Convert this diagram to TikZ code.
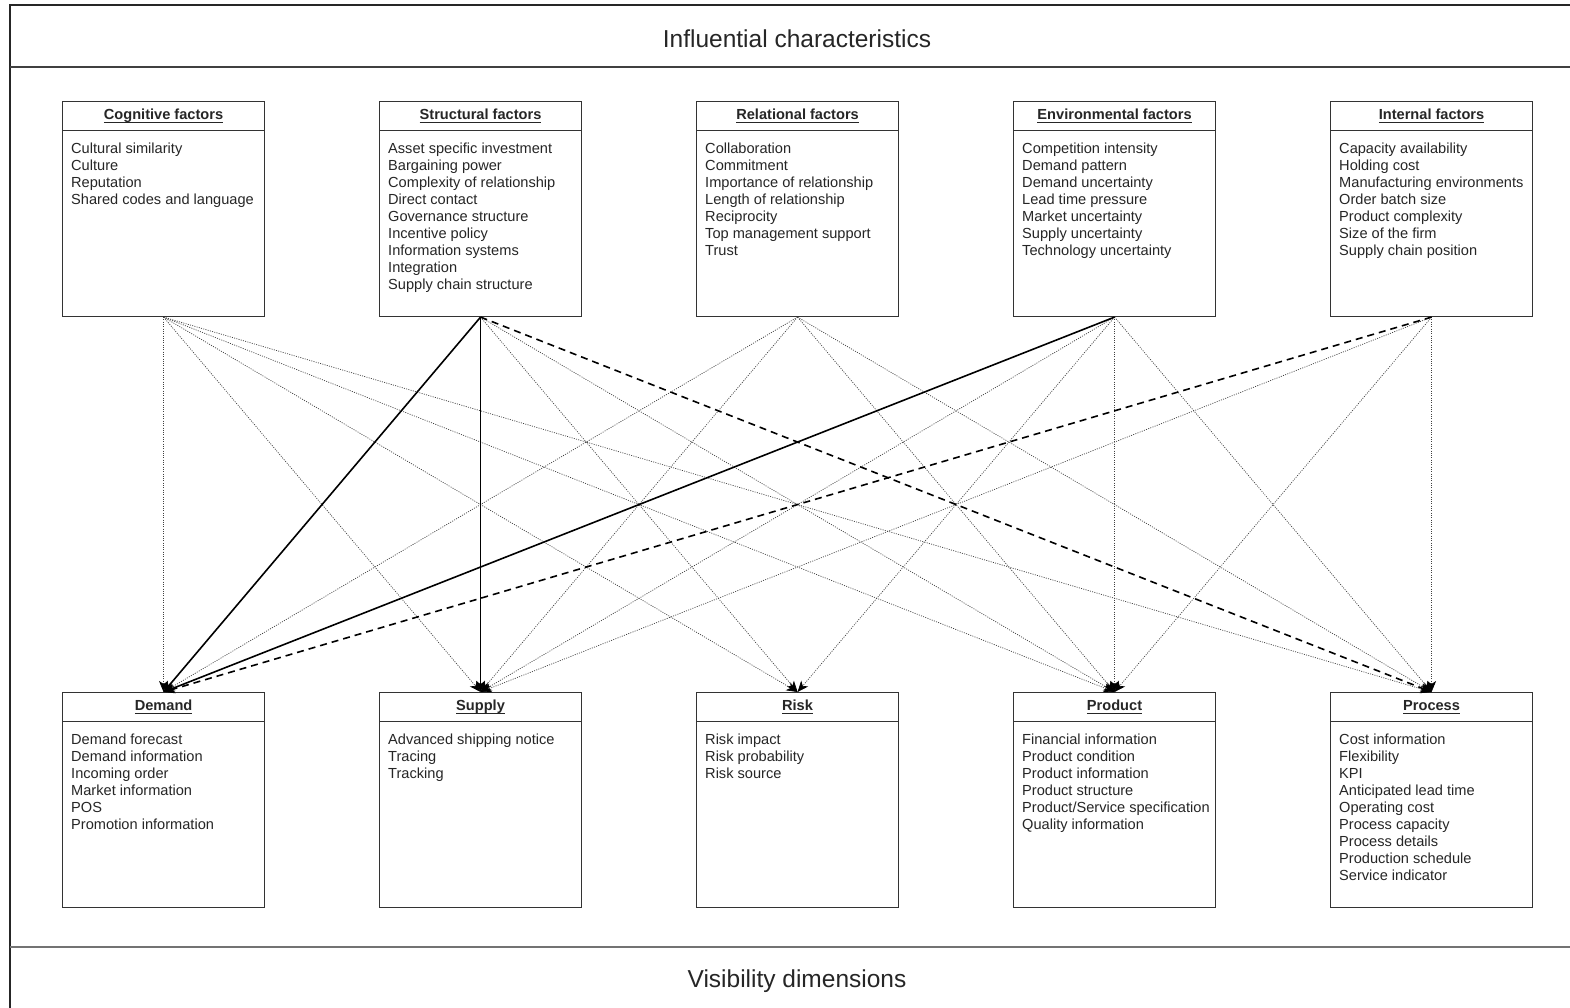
\documentclass[tikz,border=0pt]{standalone}
\usepackage{fontspec}
\setmainfont{Liberation Sans}
\usetikzlibrary{arrows.meta}

% Underline at a fixed depth below the baseline, whatever the letters
\newcommand{\hdrline}[1]{\setbox0\hbox{#1}\rlap{\vrule width\wd0 height -1.8pt depth 2.8pt}\box0}

% One factor box: a header cell with an underlined bold title and a body cell with a list
\newcommand{\factorbox}[5]{%
  \node[hdr] (#1H) at (#2,#3) {\hdrline{#4}};
  \node[bodybox] (#1) at (#2,#3+29) {};
  \node[items] at ([xshift=9pt,yshift=-12.5pt]#1.north west) {#5};
}

\begin{document}
\begin{tikzpicture}[x=1pt,y=-1pt,
  hdr/.style={draw=black!80, line width=1.1pt, minimum width=202pt, minimum height=29pt,
    text height=10.5pt, text depth=3pt,
    inner sep=0pt, anchor=north west, font=\fontsize{14.6}{17}\selectfont\bfseries, text=black!85},
  bodybox/.style={draw=black!80, line width=1.1pt, minimum width=202pt, minimum height=186pt,
    inner sep=0pt, anchor=north west},
  items/.style={anchor=north west, align=left, inner sep=0pt,
    font=\fontsize{14.6}{17}\selectfont, text=black!85},
  section/.style={font=\fontsize{24.5}{28}\selectfont, text=black!85},
  link/.style={-{Stealth[length=11pt,width=9pt,inset=3pt,color=black]}},
  weak/.style={link, draw=black!75, line width=0.7pt, dash pattern=on 1pt off 1.3pt},
  strong/.style={link, line width=1.6pt},
  broken/.style={link, line width=1.6pt, dash pattern=on 7pt off 5pt},
]
\useasboundingbox (0,0) rectangle (1570,1008);
\fill[white] (0,0) rectangle (1570,1008);

% outer frame and the two section bands
\draw[line width=1.2pt, black!85] (10,1008) -- (10,5) -- (1570,5);
\draw[line width=1.1pt, black!75] (10,67) -- (1570,67);
\draw[line width=2pt, black!55] (10,947) -- (1570,947);
\node[section] (influential) at (797,39) {Influential characteristics};
\node[section] (visibility) at (797,981) {Visibility dimensions};

% influential characteristics
\factorbox{cog}{62}{101}{Cognitive factors}{Cultural similarity\\Culture\\Reputation\\Shared codes and language}
\factorbox{str}{379}{101}{Structural factors}{Asset specific investment\\Bargaining power\\Complexity of relationship\\Direct contact\\Governance structure\\Incentive policy\\Information systems\\Integration\\Supply chain structure}
\factorbox{rel}{696}{101}{Relational factors}{Collaboration\\Commitment\\Importance of relationship\\Length of relationship\\Reciprocity\\Top management support\\Trust}
\factorbox{env}{1013}{101}{Environmental factors}{Competition intensity\\Demand pattern\\Demand uncertainty\\Lead time pressure\\Market uncertainty\\Supply uncertainty\\Technology uncertainty}
\factorbox{int}{1330}{101}{Internal factors}{Capacity availability\\Holding cost\\Manufacturing environments\\Order batch size\\Product complexity\\Size of the firm\\Supply chain position}

% visibility dimensions
\factorbox{dem}{62}{692}{Demand}{Demand forecast\\Demand information\\Incoming order\\Market information\\POS\\Promotion information}
\factorbox{sup}{379}{692}{Supply}{Advanced shipping notice\\Tracing\\Tracking}
\factorbox{risk}{696}{692}{Risk}{Risk impact\\Risk probability\\Risk source}
\factorbox{prod}{1013}{692}{Product}{Financial information\\Product condition\\Product information\\Product structure\\Product/Service specification\\Quality information}
\factorbox{proc}{1330}{692}{Process}{Cost information\\Flexibility\\KPI\\Anticipated lead time\\Operating cost\\Process capacity\\Process details\\Production schedule\\Service indicator}

% links from characteristics to dimensions
\draw[weak] (cog.south) -- (demH.north);
\draw[weak] (cog.south) -- (supH.north);
\draw[weak] (cog.south) -- (riskH.north);
\draw[weak] (cog.south) -- (prodH.north);
\draw[weak] (cog.south) -- (procH.north);

\draw[weak] (str.south) -- (riskH.north);
\draw[weak] (str.south) -- (prodH.north);

\draw[weak] (rel.south) -- (demH.north);
\draw[weak] (rel.south) -- (supH.north);
\draw[weak] (rel.south) -- (prodH.north);
\draw[weak] (rel.south) -- (procH.north);

\draw[weak] (env.south) -- (supH.north);
\draw[weak] (env.south) -- (riskH.north);
\draw[weak] (env.south) -- (prodH.north);
\draw[weak] (env.south) -- (procH.north);

\draw[weak] (int.south) -- (supH.north);
\draw[weak] (int.south) -- (prodH.north);
\draw[weak] (int.south) -- (procH.north);

\draw[strong] (str.south) -- (demH.north);
\draw[strong] (str.south) -- (supH.north);
\draw[strong] (env.south) -- (demH.north);
\draw[broken] (str.south) -- (procH.north);
\draw[broken] (int.south) -- (demH.north);
\end{tikzpicture}
\end{document}
